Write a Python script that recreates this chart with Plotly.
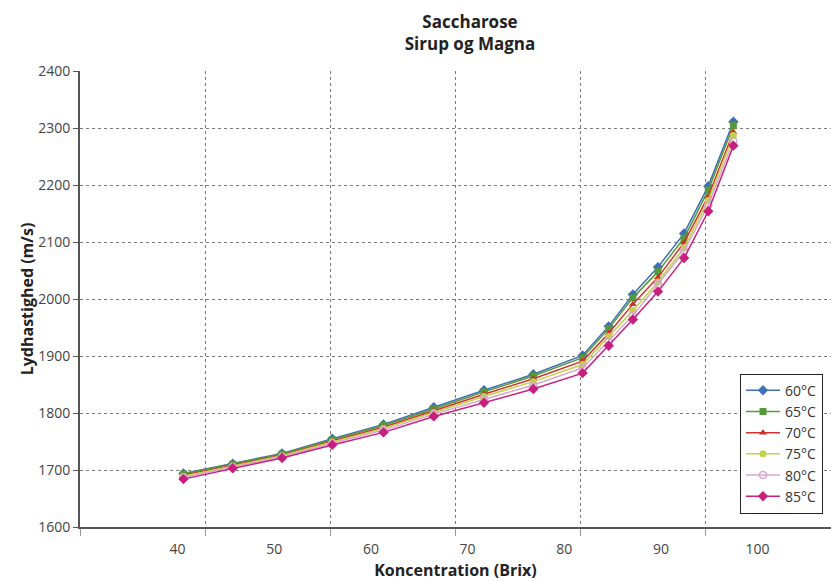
import plotly.graph_objects as go

brix = [40.6, 45.7, 50.8, 56.0, 61.3, 66.5, 71.7, 76.8, 81.9, 84.6, 87.1, 89.7, 92.4, 94.9, 97.5]

v60 = [1694, 1711, 1729, 1755, 1780, 1810, 1840, 1868, 1901, 1952, 2008, 2056, 2115, 2198, 2311]
v65 = [1693, 1710, 1728, 1753, 1778, 1807, 1837, 1865, 1897, 1948, 2002, 2048, 2107, 2191, 2304]
v70 = [1691, 1708, 1726, 1751, 1775, 1804, 1833, 1860, 1891, 1940, 1991, 2038, 2099, 2180, 2293]
v75 = [1689, 1707, 1725, 1749, 1773, 1801, 1829, 1855, 1885, 1934, 1980, 2030, 2090, 2173, 2287]
v80 = [1687, 1705, 1723, 1747, 1770, 1798, 1824, 1849, 1879, 1926, 1971, 2026, 2084, 2165, 2277]
v85 = [1684, 1703, 1721, 1744, 1766, 1794, 1818, 1842, 1870, 1918, 1964, 2013, 2072, 2154, 2269]

series_names = ["60°C", "65°C", "70°C", "75°C", "80°C", "85°C"]
series_values = [v60, v65, v70, v75, v80, v85]
colors = ["#3F6FB6", "#56993A", "#D2302A", "#C2D24A", "#D7A6CF", "#C81F7F"]
symbols = ["diamond", "square", "triangle-up", "circle", "circle-open", "diamond"]
sizes = [8, 7, 7, 7, 7, 8]

x_tick_vals = [40, 50, 60, 70, 80, 90, 100]
y_tick_vals = [1600, 1700, 1800, 1900, 2000, 2100, 2200, 2300, 2400]
x_range = [29.9, 107.6]
x_grid_divisions = 6

FONT = "Open Sans"

fig = go.Figure()
for name, vals, c, s, sz in zip(series_names, series_values, colors, symbols, sizes):
    fig.add_trace(go.Scatter(
        x=brix, y=vals, name=name, mode="lines+markers",
        line=dict(color=c, width=1.5),
        marker=dict(symbol=s, size=sz, color=c, line=dict(color=c, width=1.5 if s == "circle-open" else 0)),
    ))

grid_step = (x_range[1] - x_range[0]) / x_grid_divisions

fig.update_layout(
    width=831, height=581,
    margin=dict(l=80, r=0, t=71, b=54, autoexpand=False),
    paper_bgcolor="white", plot_bgcolor="white",
    font=dict(family=FONT, size=14, color="#333333"),
    title=dict(
        text="<b>Saccharose<br>Sirup og Magna</b>",
        font=dict(family=FONT, size=17, color="#222222"),
        xref="container", x=470 / 831, xanchor="center",
        yref="container", y=1 - 28 / 581, yanchor="top",
    ),
    xaxis=dict(
        range=x_range, automargin=False,
        tickvals=x_tick_vals, ticks="outside", ticklen=8, tickcolor="rgba(0,0,0,0)",
        showgrid=False,
        minor=dict(tick0=x_range[0], dtick=grid_step, showgrid=True,
                   gridcolor="#7a7a7a", griddash="dot", gridwidth=1,
                   ticks="outside", ticklen=7, tickcolor="#999999"),
        showline=True, linecolor="#555555", linewidth=2,
        zeroline=False,
        title=dict(text="<b>Koncentration (Brix)</b>", font=dict(family=FONT, size=16, color="#222222"), standoff=14),
        tickfont=dict(size=14, color="#444444"),
    ),
    yaxis=dict(
        range=[1600, 2400], automargin=False,
        tickvals=y_tick_vals, ticks="outside", ticklen=5, tickcolor="#555555",
        showgrid=True, gridcolor="#7a7a7a", griddash="dot", gridwidth=1,
        showline=True, linecolor="#555555", linewidth=2,
        zeroline=False,
        title=dict(text="<b>Lydhastighed (m/s)</b>", font=dict(family=FONT, size=16, color="#222222"), standoff=0),
        tickfont=dict(size=14, color="#444444"),
    ),
    legend=dict(
        x=(740 - 80) / 751, xanchor="left",
        y=(527.5 - 374) / 456.5, yanchor="top",
        bgcolor="white", bordercolor="#222222", borderwidth=1,
        font=dict(family=FONT, size=14, color="#333333"),
        tracegroupgap=0, itemwidth=34,
    ),
    showlegend=True,
)

fig.write_html("out.html", config={"displayModeBar": False},
               post_script="document.body.style.margin='0px';")
